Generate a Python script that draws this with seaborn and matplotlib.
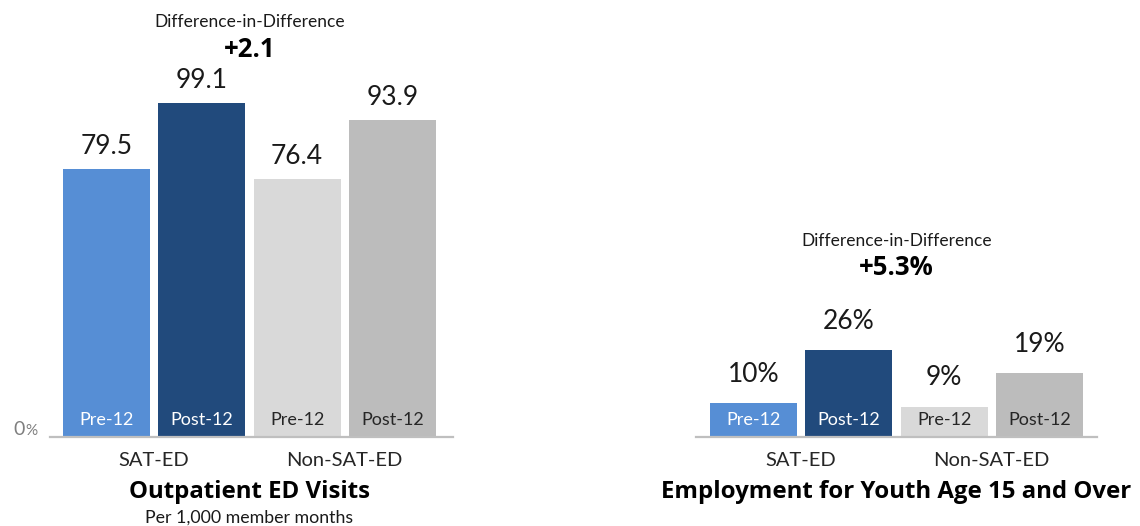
import matplotlib
matplotlib.use("Agg")
import matplotlib.pyplot as plt
import matplotlib.transforms as mtransforms
import seaborn as sns

# Bar categories (group + period) and values
periods = ["Pre-12", "Post-12", "Pre-12", "Post-12"]
groups = ["SAT-ED", "Non-SAT-ED"]
bar_keys = ["SAT-ED Pre-12", "SAT-ED Post-12", "Non-SAT-ED Pre-12", "Non-SAT-ED Post-12"]

ed_visits = [79.5, 99.1, 76.4, 93.9]
ed_labels = ["79.5", "99.1", "76.4", "93.9"]
ed_did = "+2.1"

employment = [10, 26, 9, 19]
emp_labels = ["10%", "26%", "9%", "19%"]
emp_did = "+5.3%"

bar_colors = ["#568ED5", "#214A7C", "#D9D9D9", "#BCBCBC"]
inner_text_colors = ["white", "white", "#262626", "#262626"]

sns.set_style("white")
plt.rcParams["font.family"] = ["Lato", "DejaVu Sans"]
BOLD_FAMILY = ["Open Sans", "DejaVu Sans"]

W, H = 1140, 526
fig = plt.figure(figsize=(W / 100, H / 100), dpi=100)


def fy(py):
    """Figure-fraction y for a pixel row measured from the top."""
    return 1 - py / H


base_px = 436.7
ax_left = fig.add_axes([50 / W, fy(base_px), 403 / W, base_px / H])
ax_right = fig.add_axes([696 / W, fy(base_px), 401 / W, base_px / H])


def draw_panel(ax, values, labels, did, title, subtitle, ylim_top, xlim, label_off,
               did_px, title_px):
    sns.barplot(x=bar_keys, y=values, hue=bar_keys, palette=bar_colors,
                order=bar_keys, hue_order=bar_keys, width=0.913, saturation=1,
                legend=False, ax=ax, linewidth=0)
    ax.set_ylim(0, ylim_top)
    ax.set_xlim(*xlim)
    ax.set_xticks([])
    ax.set_yticks([])
    ax.set_xlabel("")
    ax.set_ylabel("")
    for side in ["top", "left", "right"]:
        ax.spines[side].set_visible(False)
    ax.spines["bottom"].set_color("#BFBFBF")
    ax.spines["bottom"].set_linewidth(1.6)
    ax.patch.set_alpha(0)

    tr = mtransforms.blended_transform_factory(ax.transData, fig.transFigure)

    # value labels above bars
    for i, (v, lab) in enumerate(zip(values, labels)):
        ax.annotate(lab, xy=(i, v), xytext=(0, label_off), textcoords="offset points",
                    ha="center", va="baseline", fontsize=19, color="#1A1A1A")
    # period labels inside bars
    for i, p in enumerate(periods):
        ax.text(i, fy(425), p, transform=tr, ha="center", va="baseline",
                fontsize=13, color=inner_text_colors[i])
    # group labels
    for j, g in enumerate(groups):
        ax.text(2 * j + 0.5, fy(466), g, transform=tr, ha="center", va="baseline",
                fontsize=14.5, color="#262626")
    # difference-in-difference
    ax.text(1.5, fy(did_px[0]), "Difference-in-Difference", transform=tr,
            ha="center", va="baseline", fontsize=12.5, color="#1A1A1A")
    ax.text(1.5, fy(did_px[1]), did, transform=tr, ha="center", va="baseline",
            fontsize=18.5, fontweight="bold", family=BOLD_FAMILY, color="#000000")
    # titles
    ax.text(1.5, fy(title_px), title, transform=tr, ha="center", va="baseline",
            fontsize=17.3, fontweight="bold", family=BOLD_FAMILY, color="#000000")
    if subtitle:
        ax.text(1.5, fy(522.5), subtitle, transform=tr, ha="center", va="baseline",
                fontsize=12.8, color="#1A1A1A")


draw_panel(ax_left, ed_visits, ed_labels, ed_did, "Outpatient ED Visits",
           "Per 1,000 member months", base_px / 3.37, (-0.593, 3.636), 10.8,
           (27.3, 56.7), 498)
draw_panel(ax_right, employment, emp_labels, emp_did,
           "Employment for Youth Age 15 and Over", None, base_px / 3.33,
           (-0.603, 3.604), 15.5, (246, 275), 497.5)

# zero label on the left axis
fig.text(25 / W, fy(435), "0", ha="right", va="baseline", fontsize=14,
         color="#7F7F7F")
fig.text(25 / W, fy(435), "%", ha="left", va="baseline", fontsize=11,
         color="#7F7F7F")

fig.savefig("out.png", dpi=100)
